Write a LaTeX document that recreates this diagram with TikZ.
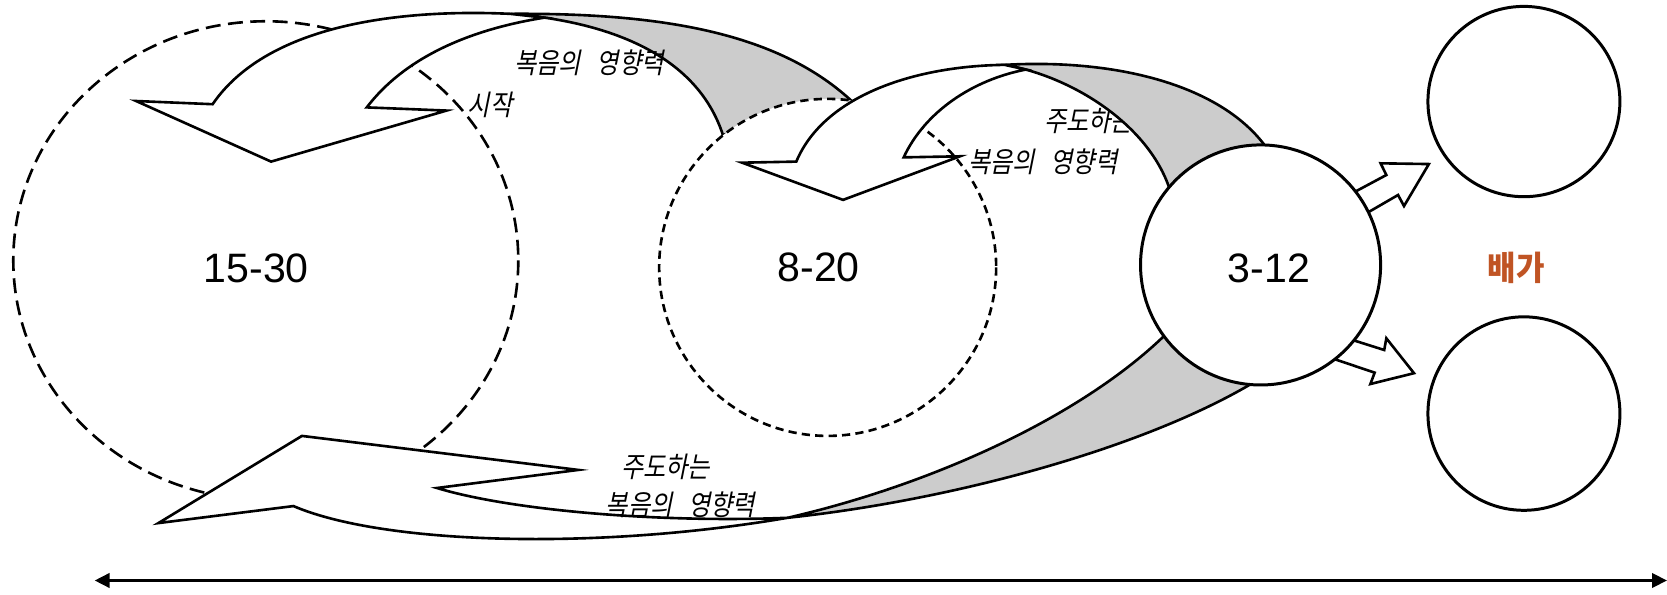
\documentclass[tikz,border=0pt]{standalone}
\usepackage{fontspec}
\setmainfont{Liberation Sans}
\newfontfamily\kor{Noto Sans CJK KR}[FakeSlant=0.2,FakeStretch=0.85]
\newfontfamily\korbold{Noto Sans CJK KR}[FakeStretch=0.92]
\usetikzlibrary{arrows.meta}
\definecolor{foldgray}{RGB}{204,204,204}
\definecolor{accent}{RGB}{192,84,36}

\begin{document}
\begin{tikzpicture}[x=1cm,y=-1cm,line width=0.7pt,
  longdash/.style={draw,dash pattern=on 4pt off 2pt},
  shortdash/.style={draw,fill=white,dash pattern=on 2.2pt off 1.4pt},
  face/.style={draw,fill=white},
  fold/.style={draw,fill=foldgray},
  ring/.style={draw,fill=white,line width=0.8pt},
  lbl/.style={inner sep=0pt,font=\kor\fontsize{7.6}{8}\selectfont},
  num/.style={inner sep=0pt,font=\fontsize{11}{13}\selectfont}]
\useasboundingbox (0,0) rectangle (15.68,5.59);

\draw [longdash] (2.50,2.45) ellipse (2.375 and 2.25);

% top left arrow
\draw [fold] (4.80,0.13) .. controls (6.20,0.12) and (7.30,0.30) .. (8.00,0.94)
  -- (6.80,1.27) .. controls (6.55,0.50) and (5.70,0.20) .. (4.80,0.13) -- cycle;
\draw [face] (2.00,0.98) .. controls (2.50,0.25) and (3.70,0.08) .. (4.80,0.13)
  -- (5.12,0.166) .. controls (4.40,0.28) and (3.80,0.55) .. (3.45,1.01)
  -- (4.20,1.04) -- (2.55,1.52) -- (1.28,0.95) -- cycle;
\node [lbl] (gospelA) at (5.54,0.59) {복음의\hspace{.55em}영향력};
\node [lbl] (start) at (4.61,0.99) {시작};

\draw [shortdash] (7.785,2.515) circle (1.585);

% middle arrow
\node [lbl] (leadB) at (10.24,1.14) {주도하는};
\draw [fold] (9.45,0.61) .. controls (10.50,0.55) and (11.50,0.80) .. (11.92,1.40)
  -- (11.50,2.30) -- (11.02,1.84) .. controls (10.85,1.20) and (10.10,0.72) .. (9.45,0.61) -- cycle;
\draw [face] (7.49,1.52) .. controls (7.75,0.90) and (8.60,0.62) .. (9.45,0.61)
  -- (9.65,0.654) .. controls (9.15,0.75) and (8.70,1.05) .. (8.50,1.48)
  -- (9.03,1.47) -- (7.93,1.88) -- (6.98,1.53) -- cycle;
\node [lbl] (gospelB) at (9.81,1.52) {복음의\hspace{.55em}영향력};

% bottom arrow
\draw [fold] (7.41,4.87) .. controls (8.80,4.55) and (10.20,3.90) .. (10.98,3.13)
  -- (11.82,3.58) .. controls (10.80,4.20) and (9.00,4.70) .. (7.41,4.87) -- cycle;
\draw [face] (1.49,4.92) -- (2.84,4.10) -- (5.44,4.42) -- (4.11,4.59)
  .. controls (4.80,4.80) and (6.20,4.92) .. (7.41,4.87)
  .. controls (5.60,5.18) and (3.60,5.12) .. (2.76,4.76) -- cycle;

\draw [face] (12.64,1.86) -- (13.04,1.646) -- (12.986,1.536) -- (13.44,1.543)
  -- (13.206,1.938) -- (13.15,1.834) -- (12.76,2.06) -- cycle;
\draw [face] (12.615,3.164) -- (13.02,3.292) -- (13.04,3.182) -- (13.30,3.51)
  -- (12.89,3.612) -- (12.93,3.505) -- (12.427,3.336) -- cycle;

\draw [ring] (11.857,2.492) circle (1.129);
\draw [ring] (14.334,0.955) ellipse (0.903 and 0.895);
\draw [ring] (14.334,3.89) ellipse (0.903 and 0.91);

\node [num] (age1) at (2.41,2.52) {15-30};
\node [num] (age2) at (7.70,2.51) {8-20};
\node [num] (age3) at (11.935,2.52) {3-12};
\node [inner sep=0pt,text=accent,font=\korbold\bfseries\fontsize{9}{10}\selectfont] (double) at (14.26,2.52) {배가};
\node [lbl] (leadC) at (6.26,4.39) {주도하는};
\node [lbl] (gospelC) at (6.40,4.75) {복음의\hspace{.55em}영향력};

\coordinate (axl) at (0.89,5.46);
\coordinate (axr) at (15.68,5.46);
\draw [{Triangle[length=4pt,width=3.8pt]}-{Triangle[length=4pt,width=3.8pt]},line width=0.85pt] (axl) -- (axr);
\end{tikzpicture}
\end{document}
